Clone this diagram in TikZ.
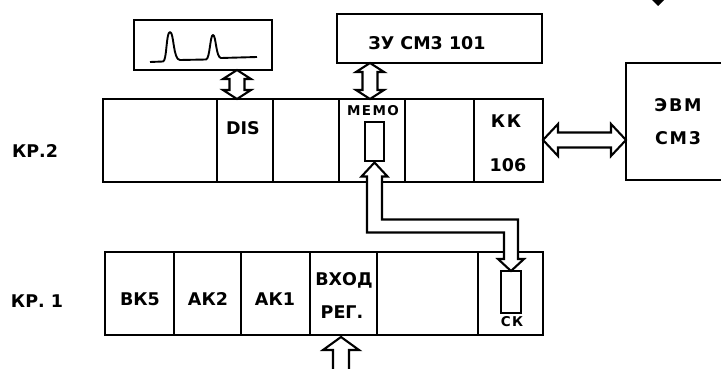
\documentclass[tikz,border=0pt]{standalone}
\usepackage{fontspec}
\setmainfont{DejaVu Sans}
\newfontfamily\widefont{DejaVu Sans}[LetterSpace=10]
\usetikzlibrary{calc}
\tikzset{
  cell/.style={draw, rectangle, inner sep=0pt, outer sep=0pt},
  big/.style={inner sep=0pt, font=\fontsize{17.5}{17.5}\selectfont\bfseries},
  bigwide/.style={inner sep=0pt, font=\fontsize{17.5}{17.5}\selectfont\widefont\bfseries},
  small/.style={inner sep=0pt, font=\fontsize{13.5}{13.5}\selectfont\widefont\bfseries},
  hollow/.style={draw, fill=white, line join=miter},
}
\newcommand\mkcell[5]{\node[cell, minimum width={#3-#2}, minimum height={#5-#4}] (#1) at ({(#2+#3)/2},{(#4+#5)/2}) {};}
% vertical hollow double arrow between two named coordinates (top, bottom)
\newcommand\vdarrow[2]{\path[hollow] let \p1=(#1), \p2=(#2) in
  (\x1,\y1) -- (\x1+14pt,\y1-9pt) -- (\x1+7.5pt,\y1-9pt) -- (\x1+7.5pt,\y2+9pt) -- (\x1+14pt,\y2+9pt)
  -- (\x1,\y2) -- (\x1-14pt,\y2+9pt) -- (\x1-7.5pt,\y2+9pt) -- (\x1-7.5pt,\y1-9pt) -- (\x1-14pt,\y1-9pt) -- cycle;}
% horizontal hollow double arrow between two named coordinates (left, right)
\newcommand\hdarrow[2]{\path[hollow] let \p1=(#1), \p2=(#2) in
  (\x1,\y1) -- (\x1+15pt,\y1+16pt) -- (\x1+15pt,\y1+7.5pt) -- (\x2-15pt,\y1+7.5pt) -- (\x2-15pt,\y1+16pt)
  -- (\x2,\y1) -- (\x2-15pt,\y1-16pt) -- (\x2-15pt,\y1-7.5pt) -- (\x1+15pt,\y1-7.5pt) -- (\x1+15pt,\y1-16pt) -- cycle;}
\begin{document}
\begin{tikzpicture}[x=1pt, y=-1pt, line width=2.1pt]
\useasboundingbox (0,0) rectangle (721,369);

% top boxes
\mkcell{wave}{134}{272}{20}{70}
\mkcell{zu}{337}{542}{14}{63}
\mkcell{evm}{626}{760}{63}{180}

% waveform
\draw[line width=1.9pt, line join=round]
  (150,62) -- (163,61.5) .. controls (167,61) and (166,32) .. (170,32)
  .. controls (174,32) and (173,60) .. (180,60) -- (206,59.5)
  .. controls (210,59) and (210,35) .. (213,35)
  .. controls (216,35) and (216,58) .. (221,58) -- (257,57);

% row KP.2
\mkcell{r2a}{103}{217}{99}{182}
\mkcell{dis}{217}{273}{99}{182}
\mkcell{r2c}{273}{339}{99}{182}
\mkcell{memo}{339}{405}{99}{182}
\mkcell{r2e}{405}{474}{99}{182}
\mkcell{kk}{474}{543}{99}{182}
\mkcell{mrect}{365}{384}{122}{161}

% row KP.1
\mkcell{vk5}{105}{174}{252}{335}
\mkcell{ak2}{174}{241}{252}{335}
\mkcell{ak1}{241}{310}{252}{335}
\mkcell{reg}{310}{377}{252}{335}
\mkcell{r1e}{377}{478}{252}{335}
\mkcell{ck}{478}{543}{252}{335}
\mkcell{ckrect}{501}{521}{271}{313}

% labels
\node[big] (lkp2) at (35,151) {КР.2};
\node[big] (lkp1) at (37,301) {КР. 1};
\node[big] (ldis) at (243,128) {DIS};
\node[small] (lmemo) at (373,111) {MEMO};
\node[bigwide] (lkk) at (506,121) {КК};
\node[big] (l106) at (508,165) {106};
\node[big] (lzu) at (427,43) {ЗУ СМ3 101};
\node[bigwide] (levm) at (678,105) {ЭВМ};
\node[bigwide] (lcm3) at (678,138) {СМ3};
\node[big] (lvk5) at (140,299) {ВК5};
\node[big] (lak2) at (208,299) {АК2};
\node[big] (lak1) at (275,299) {АК1};
\node[big] (lvhod) at (344,280) {ВХОД};
\node[big] (lreg) at (342,312) {РЕГ.};
\node[small] (lck) at (512,322) {СК};

% connectors
\coordinate (d1t) at (237,70);
\coordinate (d1b) at (237,99);
\vdarrow{d1t}{d1b}
\coordinate (d2t) at (370,63);
\coordinate (d2b) at (370,99);
\vdarrow{d2t}{d2b}
\coordinate (hl) at (543,140);
\coordinate (hr) at (626,140);
\hdarrow{hl}{hr}

% bus MEMO -> CK
\coordinate (bend) at (444,226);
\path[hollow] let \p1=($(mrect.south)+(0,1.5)$), \p2=(ckrect.north), \p3=(bend) in
  (\x1,\y1) -- (\x1+13pt,\y1-14pt) -- (\x1+7.5pt,\y1-14pt) -- (\x1+7.5pt,\y3+6.5pt)
  -- (\x2+7pt,\y3+6.5pt) -- (\x2+7pt,\y2+12pt) -- (\x2+13pt,\y2+12pt) -- (\x2,\y2)
  -- (\x2-13pt,\y2+12pt) -- (\x2-7pt,\y2+12pt) -- (\x2-7pt,\y3-6.5pt)
  -- (\x1-7.5pt,\y3-6.5pt) -- (\x1-7.5pt,\y1-14pt) -- (\x1-13pt,\y1-14pt) -- cycle;

% input arrow into REG
\coordinate (intail) at (341,375);
\path[hollow] let \p1=($(reg.south)+(-2.5,2)$), \p2=(intail) in
  (\x1,\y1) -- (\x1+18pt,\y1-13pt) -- (\x1+8pt,\y1-13pt) -- (\x1+8pt,\y2)
  -- (\x1-8pt,\y2) -- (\x1-8pt,\y1-13pt) -- (\x1-18pt,\y1-13pt) -- cycle;

% black mark at top edge
\fill (646,-6) -- (658,6) -- (670,-6) -- (658,-18) -- cycle;
\end{tikzpicture}
\end{document}
